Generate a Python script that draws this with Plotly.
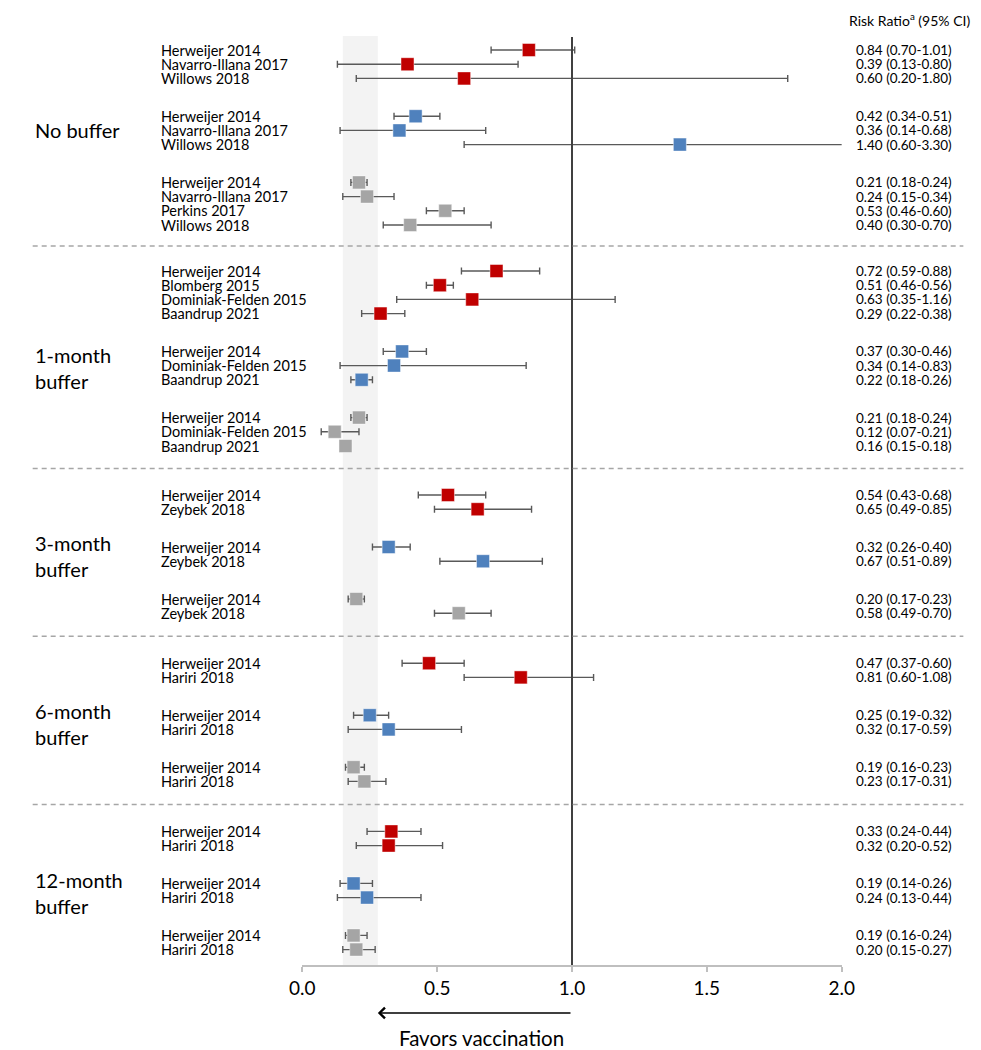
import plotly.graph_objects as go

# ---- data ----
group_labels = ["No buffer", "1-month<br>buffer", "3-month<br>buffer", "6-month<br>buffer", "12-month<br>buffer"]

# group index / outcome index (0 = red, 1 = blue, 2 = grey) per row
group = [0, 0, 0, 0, 0, 0, 0, 0, 0, 0,
         1, 1, 1, 1, 1, 1, 1, 1, 1, 1,
         2, 2, 2, 2, 2, 2,
         3, 3, 3, 3, 3, 3,
         4, 4, 4, 4, 4, 4]
outcome = [0, 0, 0, 1, 1, 1, 2, 2, 2, 2,
           0, 0, 0, 0, 1, 1, 1, 2, 2, 2,
           0, 0, 1, 1, 2, 2,
           0, 0, 1, 1, 2, 2,
           0, 0, 1, 1, 2, 2]
study = ["Herweijer 2014", "Navarro-Illana 2017", "Willows 2018",
         "Herweijer 2014", "Navarro-Illana 2017", "Willows 2018",
         "Herweijer 2014", "Navarro-Illana 2017", "Perkins 2017", "Willows 2018",
         "Herweijer 2014", "Blomberg 2015", "Dominiak-Felden 2015", "Baandrup 2021",
         "Herweijer 2014", "Dominiak-Felden 2015", "Baandrup 2021",
         "Herweijer 2014", "Dominiak-Felden 2015", "Baandrup 2021",
         "Herweijer 2014", "Zeybek 2018", "Herweijer 2014", "Zeybek 2018", "Herweijer 2014", "Zeybek 2018",
         "Herweijer 2014", "Hariri 2018", "Herweijer 2014", "Hariri 2018", "Herweijer 2014", "Hariri 2018",
         "Herweijer 2014", "Hariri 2018", "Herweijer 2014", "Hariri 2018", "Herweijer 2014", "Hariri 2018"]
rr = [0.84, 0.39, 0.60, 0.42, 0.36, 1.40, 0.21, 0.24, 0.53, 0.40,
      0.72, 0.51, 0.63, 0.29, 0.37, 0.34, 0.22, 0.21, 0.12, 0.16,
      0.54, 0.65, 0.32, 0.67, 0.20, 0.58,
      0.47, 0.81, 0.25, 0.32, 0.19, 0.23,
      0.33, 0.32, 0.19, 0.24, 0.19, 0.20]
lo = [0.70, 0.13, 0.20, 0.34, 0.14, 0.60, 0.18, 0.15, 0.46, 0.30,
      0.59, 0.46, 0.35, 0.22, 0.30, 0.14, 0.18, 0.18, 0.07, 0.15,
      0.43, 0.49, 0.26, 0.51, 0.17, 0.49,
      0.37, 0.60, 0.19, 0.17, 0.16, 0.17,
      0.24, 0.20, 0.14, 0.13, 0.16, 0.15]
hi = [1.01, 0.80, 1.80, 0.51, 0.68, 3.30, 0.24, 0.34, 0.60, 0.70,
      0.88, 0.56, 1.16, 0.38, 0.46, 0.83, 0.26, 0.24, 0.21, 0.18,
      0.68, 0.85, 0.40, 0.89, 0.23, 0.70,
      0.60, 1.08, 0.32, 0.59, 0.23, 0.31,
      0.44, 0.52, 0.26, 0.44, 0.24, 0.27]

band = (0.15, 0.28)  # shaded reference region

colors = ["#C00000", "#4F81BD", "#A5A5A5"]
FONT = "Lato"

# ---- vertical layout (pixels from top) ----
TOP, STEP, SUB_GAP = 42, 14.2, 37.8
GROUP_GAPS = [46, 49, 50, 50]
ys = []
y = TOP
for i in range(len(study)):
    if i > 0:
        if group[i] != group[i - 1]:
            y += GROUP_GAPS[group[i] - 1]
        elif outcome[i] != outcome[i - 1]:
            y += SUB_GAP
        else:
            y += STEP
    ys.append(y)

AXIS_Y = 957
W, H = 981, 1050
X0, X1 = 289, 843

fig = go.Figure()

for k in range(3):
    idx = [i for i in range(len(study)) if outcome[i] == k]
    fig.add_trace(go.Scatter(
        x=[rr[i] for i in idx],
        y=[ys[i] for i in idx],
        mode="markers",
        marker=dict(symbol="square", size=13, color=colors[k],
                    line=dict(width=1, color="rgba(255,255,255,0.45)")),
        error_x=dict(type="data", symmetric=False,
                     array=[hi[i] - rr[i] for i in idx],
                     arrayminus=[rr[i] - lo[i] for i in idx],
                     color="#595959", thickness=1.4, width=3.5),
        showlegend=False, hoverinfo="skip",
    ))

shapes = [
    dict(type="rect", xref="x", yref="y", x0=band[0], x1=band[1], y0=28, y1=AXIS_Y,
         fillcolor="#F3F3F3", line=dict(width=0), layer="below"),
    dict(type="line", xref="x", yref="y", x0=1, x1=1, y0=29, y1=AXIS_Y,
         line=dict(color="#404040", width=2)),
]

annotations = []
for i in range(len(study)):
    annotations.append(dict(x=142 / W, y=ys[i], xref="paper", yref="y", text=study[i],
                            showarrow=False, xanchor="left", yanchor="middle",
                            font=dict(family=FONT, size=14.5, color="black")))
    annotations.append(dict(x=856 / W, y=ys[i], xref="paper", yref="y",
                            text=f"{rr[i]:.2f} ({lo[i]:.2f}-{hi[i]:.2f})",
                            showarrow=False, xanchor="left", yanchor="middle",
                            font=dict(family=FONT, size=13.5, color="black")))

for g, label in enumerate(group_labels):
    rows = [i for i in range(len(study)) if group[i] == g and outcome[i] == 1]
    yc = (ys[rows[0]] + ys[rows[-1]]) / 2 + (2 if "<br>" in label else 0)
    annotations.append(dict(x=12 / W, y=yc, xref="paper", yref="y", text=label,
                            showarrow=False, xanchor="left", yanchor="middle", align="left",
                            font=dict(family=FONT, size=20, color="black")))
    if g > 0:
        prev_last = max(i for i in range(len(study)) if group[i] == g - 1)
        first = min(i for i in range(len(study)) if group[i] == g)
        ysep = (ys[prev_last] + ys[first]) / 2 - 2
        shapes.append(dict(type="line", xref="paper", yref="y", x0=12 / W, x1=968 / W,
                           y0=ysep, y1=ysep, line=dict(color="#A6A6A6", width=1.5, dash="5px,4px")))

annotations.append(dict(x=848 / W, y=11, xref="paper", yref="y", text="Risk Ratio<sup>a</sup> (95% CI)",
                        showarrow=False, xanchor="left", yanchor="middle",
                        font=dict(family=FONT, size=14, color="black")))

# arrow + caption under the axis
annotations.append(dict(x=0.28, y=1 - 1005 / H, xref="x", yref="paper", ax=1.0, ay=0,
                        axref="x", ayref="pixel", showarrow=True, arrowhead=4,
                        arrowsize=1.4, arrowwidth=1.5, arrowcolor="black", text=""))
annotations.append(dict(x=0.665, y=1 - 1030 / H, xref="x", yref="paper", text="Favors vaccination",
                        showarrow=False, xanchor="center", yanchor="middle",
                        font=dict(family=FONT, size=20.5, color="black")))

fig.update_layout(
    width=W, height=H,
    margin=dict(l=0, r=0, t=0, b=0),
    paper_bgcolor="white", plot_bgcolor="white",
    shapes=shapes, annotations=annotations,
    xaxis=dict(range=[0, 2], domain=[X0 / W, X1 / W], tickvals=[0, 0.5, 1, 1.5, 2],
               tickformat=".1f", showgrid=False, zeroline=False,
               showline=True, linecolor="#BFBFBF", linewidth=1.5,
               ticks="outside", ticklen=5, tickwidth=1.5, tickcolor="#BFBFBF",
               tickfont=dict(family=FONT, size=19, color="black")),
    yaxis=dict(range=[AXIS_Y, 0], domain=[1 - AXIS_Y / H, 1], visible=False),
)

fig.write_html("out.html")
